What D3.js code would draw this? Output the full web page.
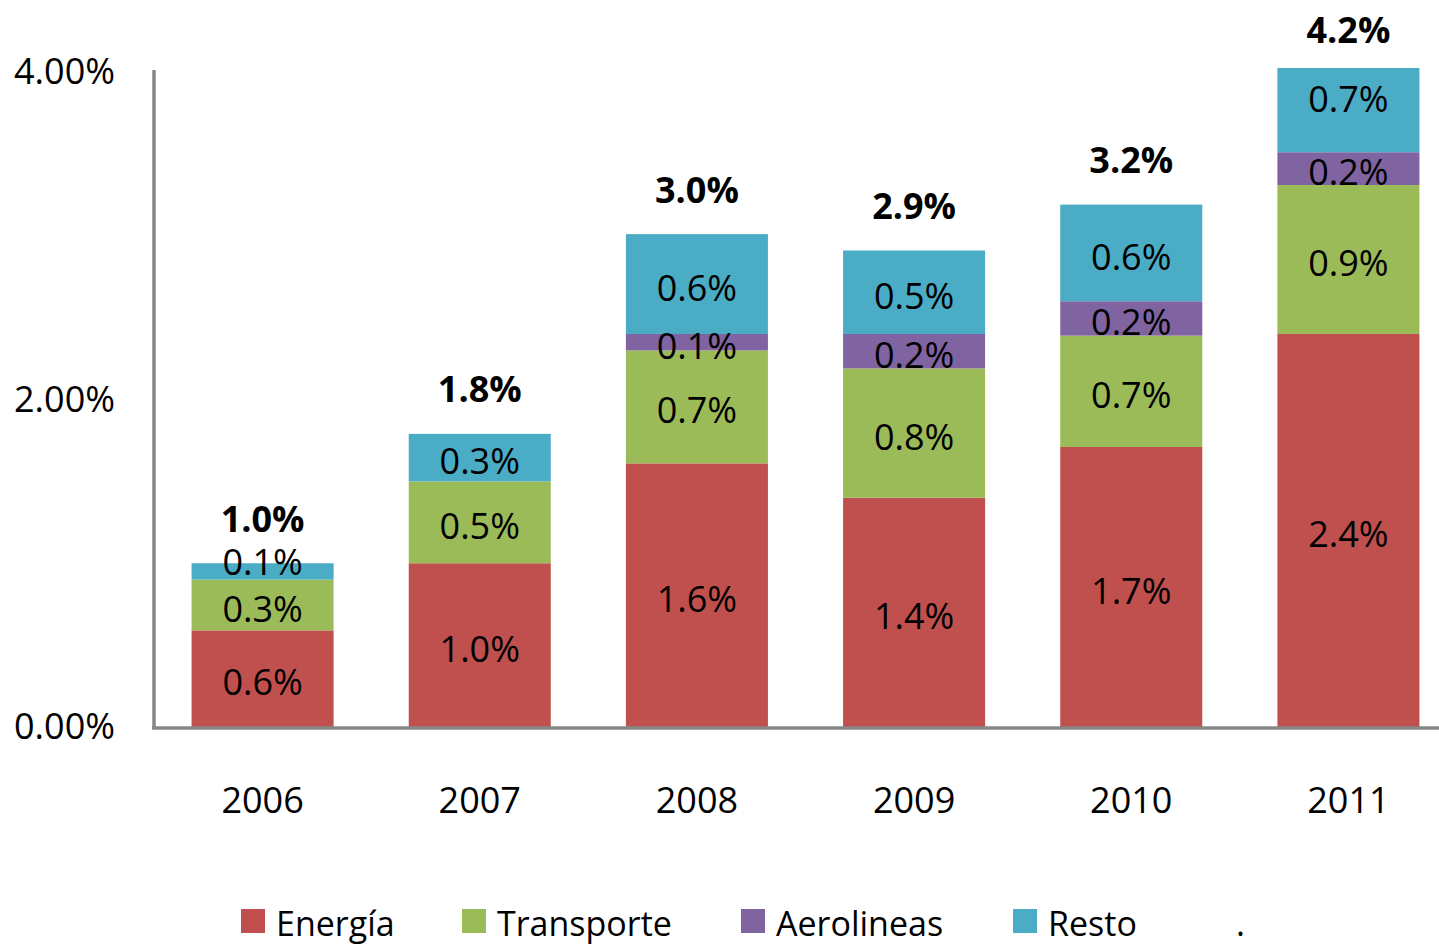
<!DOCTYPE html>
<html>
<head>
<meta charset="utf-8">
<script src="https://cdn.jsdelivr.net/npm/d3@7"></script>
<style>
  body { margin: 0; background: #fff; }
  text { font-family: "Open Sans", sans-serif; fill: #000; }
</style>
</head>
<body>
<div id="chart"></div>
<script>
// chart data (percent)
var years = ["2006", "2007", "2008", "2009", "2010", "2011"];
var energia = [0.59, 1.0, 1.61, 1.4, 1.71, 2.4];
var transporte = [0.31, 0.5, 0.69, 0.79, 0.68, 0.91];
var aerolineas = [0, 0, 0.1, 0.21, 0.21, 0.2];
var resto = [0.1, 0.29, 0.61, 0.51, 0.59, 0.7];
var seriesNames = ["Energía", "Transporte", "Aerolineas", "Resto"];
var seriesColors = ["#C0504D", "#9BBB59", "#8064A2", "#4BACC6"];
var yTicks = [0, 2, 4];

var areaWidth = 1439;
var areaHeight = 944;
var plotTop = 68;
var plotBottom = 727;

var rows = years.map(function (y, i) {
  return {
    year: y,
    "Energía": energia[i],
    "Transporte": transporte[i],
    "Aerolineas": aerolineas[i],
    "Resto": resto[i]
  };
});

var svg = d3.select("#chart").append("svg")
  .attr("width", areaWidth)
  .attr("height", areaHeight);

var x = d3.scaleBand().domain(years).range([154, 1457])
  .paddingInner(0.346).paddingOuter(0.173);
var y = d3.scaleLinear().domain([0, 4]).range([plotBottom, 72]);
var color = d3.scaleOrdinal().domain(seriesNames).range(seriesColors);

var stacked = d3.stack().keys(seriesNames)(rows);

// clip bars at top of plot area (2011 goes above 4%)
svg.append("clipPath").attr("id", "plot-clip")
  .append("rect")
  .attr("x", 0).attr("y", plotTop)
  .attr("width", areaWidth).attr("height", plotBottom - plotTop);

var bars = svg.append("g").attr("clip-path", "url(#plot-clip)");

bars.selectAll("g")
  .data(stacked)
  .enter()
  .append("g")
  .style("fill", function (s) { return color(s.key); })
  .selectAll("rect")
  .data(function (s) { return s; })
  .enter()
  .append("rect")
  .attr("x", function (d) { return x(d.data.year); })
  .attr("y", function (d) { return y(d[1]); })
  .attr("width", x.bandwidth())
  .attr("height", function (d) { return y(d[0]) - y(d[1]); });

// segment labels
var lastKey = seriesNames[seriesNames.length - 1];
var labels = svg.append("g");
stacked.forEach(function (s) {
  labels.selectAll(null)
    .data(s.filter(function (d) { return d[1] - d[0] > 0; }))
    .enter()
    .append("text")
    .attr("x", function (d) { return x(d.data.year) + x.bandwidth() / 2; })
    .attr("y", function (d) {
      var h = y(d[0]) - y(d[1]);
      // thin top segment: label sits on the bar top
      if (s.key == lastKey && h < 20) {
        return y(d[1]) - 1;
      }
      return y((d[0] + d[1]) / 2) + 4;
    })
    .attr("dy", "0.35em")
    .attr("text-anchor", "middle")
    .style("font-size", "36px")
    .text(function (d) { return (d[1] - d[0]).toFixed(1) + "%"; });
});

// totals
var totals = rows.map(function (r) {
  return d3.sum(seriesNames, function (k) { return r[k]; });
});
svg.append("g").selectAll("text")
  .data(totals)
  .enter()
  .append("text")
  .attr("x", function (d, i) { return x(years[i]) + x.bandwidth() / 2; })
  .attr("y", function (d) { return Math.max(y(d) - 44, 30); })
  .attr("dy", "0.35em")
  .attr("text-anchor", "middle")
  .style("font-size", "36px")
  .style("font-weight", "bold")
  .text(function (d) { return d.toFixed(1) + "%"; });

// axes
var yAxis = svg.append("g")
  .attr("transform", "translate(154,0)")
  .call(d3.axisLeft(y).tickValues(yTicks).tickSize(0).tickPadding(39)
    .tickFormat(function (d) { return d.toFixed(2) + "%"; }));
yAxis.select(".domain").attr("d", "M0,70V728").style("stroke", "#878787").style("stroke-width", 3.5);
yAxis.selectAll("text").style("font-size", "36px").style("font-family", "Open Sans");

var xAxis = svg.append("g")
  .attr("transform", "translate(0,728)")
  .call(d3.axisBottom(x).tickSize(0).tickPadding(59));
xAxis.select(".domain").attr("d", "M152,0H1439").style("stroke", "#878787").style("stroke-width", 3.5);
xAxis.selectAll("text").style("font-size", "36px").style("font-family", "Open Sans");

// legend
var legendX = [241, 462, 741, 1013];
var legend = svg.append("g").selectAll("g")
  .data(seriesNames)
  .enter()
  .append("g")
  .attr("transform", function (d, i) { return "translate(" + legendX[i] + ",909)"; });
legend.append("rect")
  .attr("width", 24).attr("height", 24)
  .style("fill", function (d) { return color(d); });
legend.append("text")
  .attr("x", 35).attr("y", 27)
  .style("font-size", "34px")
  .text(function (d) { return d; });
svg.append("text")
  .attr("x", 1236).attr("y", 936)
  .style("font-size", "34px")
  .text(".");
</script>
</body>
</html>
